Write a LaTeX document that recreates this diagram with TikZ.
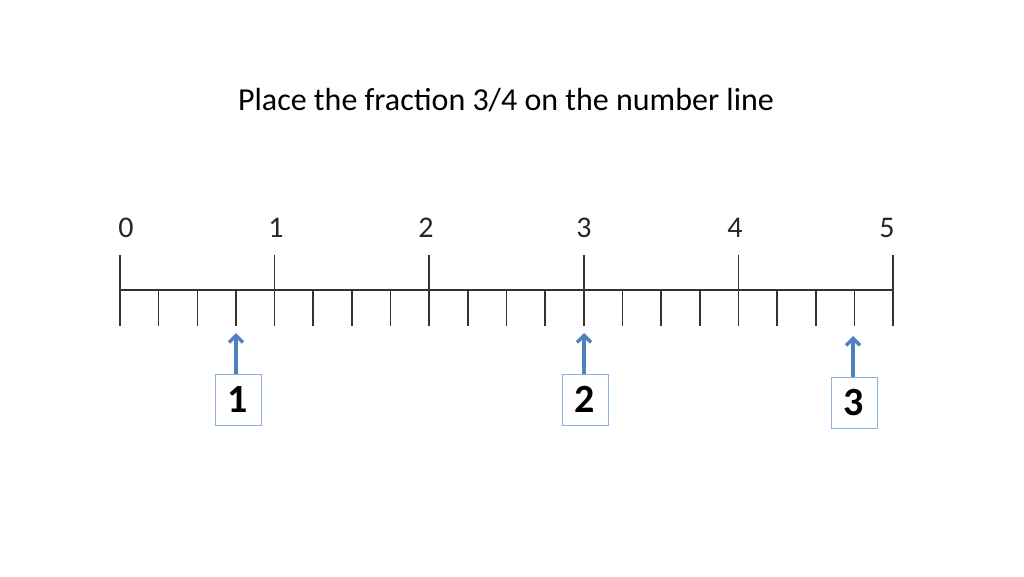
\documentclass[tikz,border=0pt]{standalone}
\usepackage{fontspec}
\setmainfont{Carlito}
\usetikzlibrary{arrows.meta}
\definecolor{arrblue}{RGB}{79,129,189}
\definecolor{boxblue}{RGB}{140,175,220}
\begin{document}
\begin{tikzpicture}[x=1pt,y=-1pt,
  axis/.style={draw=black!80, line width=1.6pt},
  lbl/.style={font=\fontsize{30}{34}\selectfont, text=black!85, inner sep=0pt},
  box/.style={draw=boxblue, line width=1pt, minimum width=46pt, minimum height=51pt, inner sep=0pt, font=\bfseries\fontsize{40}{44}\selectfont},
  arr/.style={draw=arrblue, line width=3.4pt, -{Straight Barb[length=7pt,width=14pt]}}]
\useasboundingbox (0,0) rectangle (1024,576);
\node[font=\fontsize{32}{36}\selectfont, anchor=base] (title) at (506,110) {Place the fraction 3/4 on the number line};
\coordinate (L) at (120,290);
\coordinate (R) at (893,290);
\draw[axis] (L) -- (R);
\foreach \i in {0,...,5} {
  \pgfmathsetmacro{\xx}{120+154.6*\i}
  \draw[axis] (\xx,255) -- (\xx,326);
}
\foreach \i in {1,...,19} {
  \pgfmathsetmacro{\xx}{120+38.65*\i}
  \draw[axis] (\xx,290) -- (\xx,326);
}
\node[lbl] (n0) at (126,228) {0};
\node[lbl] (n1) at (276,228) {1};
\node[lbl] (n2) at (426,228) {2};
\node[lbl] (n3) at (584,228) {3};
\node[lbl] (n4) at (735,228) {4};
\node[lbl] (n5) at (887,228) {5};
\node[box] (b1) at (238,399.5) {1};
\node[box] (b2) at (585,399.5) {2};
\node[box] (b3) at (854,402.5) {3};
\coordinate (t1) at (236,333);
\coordinate (t2) at (584,333);
\coordinate (t3) at (853,336);
\draw[arr] (b1.north -| t1) -- (t1);
\draw[arr] (b2.north -| t2) -- (t2);
\draw[arr] (b3.north -| t3) -- (t3);
\end{tikzpicture}
\end{document}
